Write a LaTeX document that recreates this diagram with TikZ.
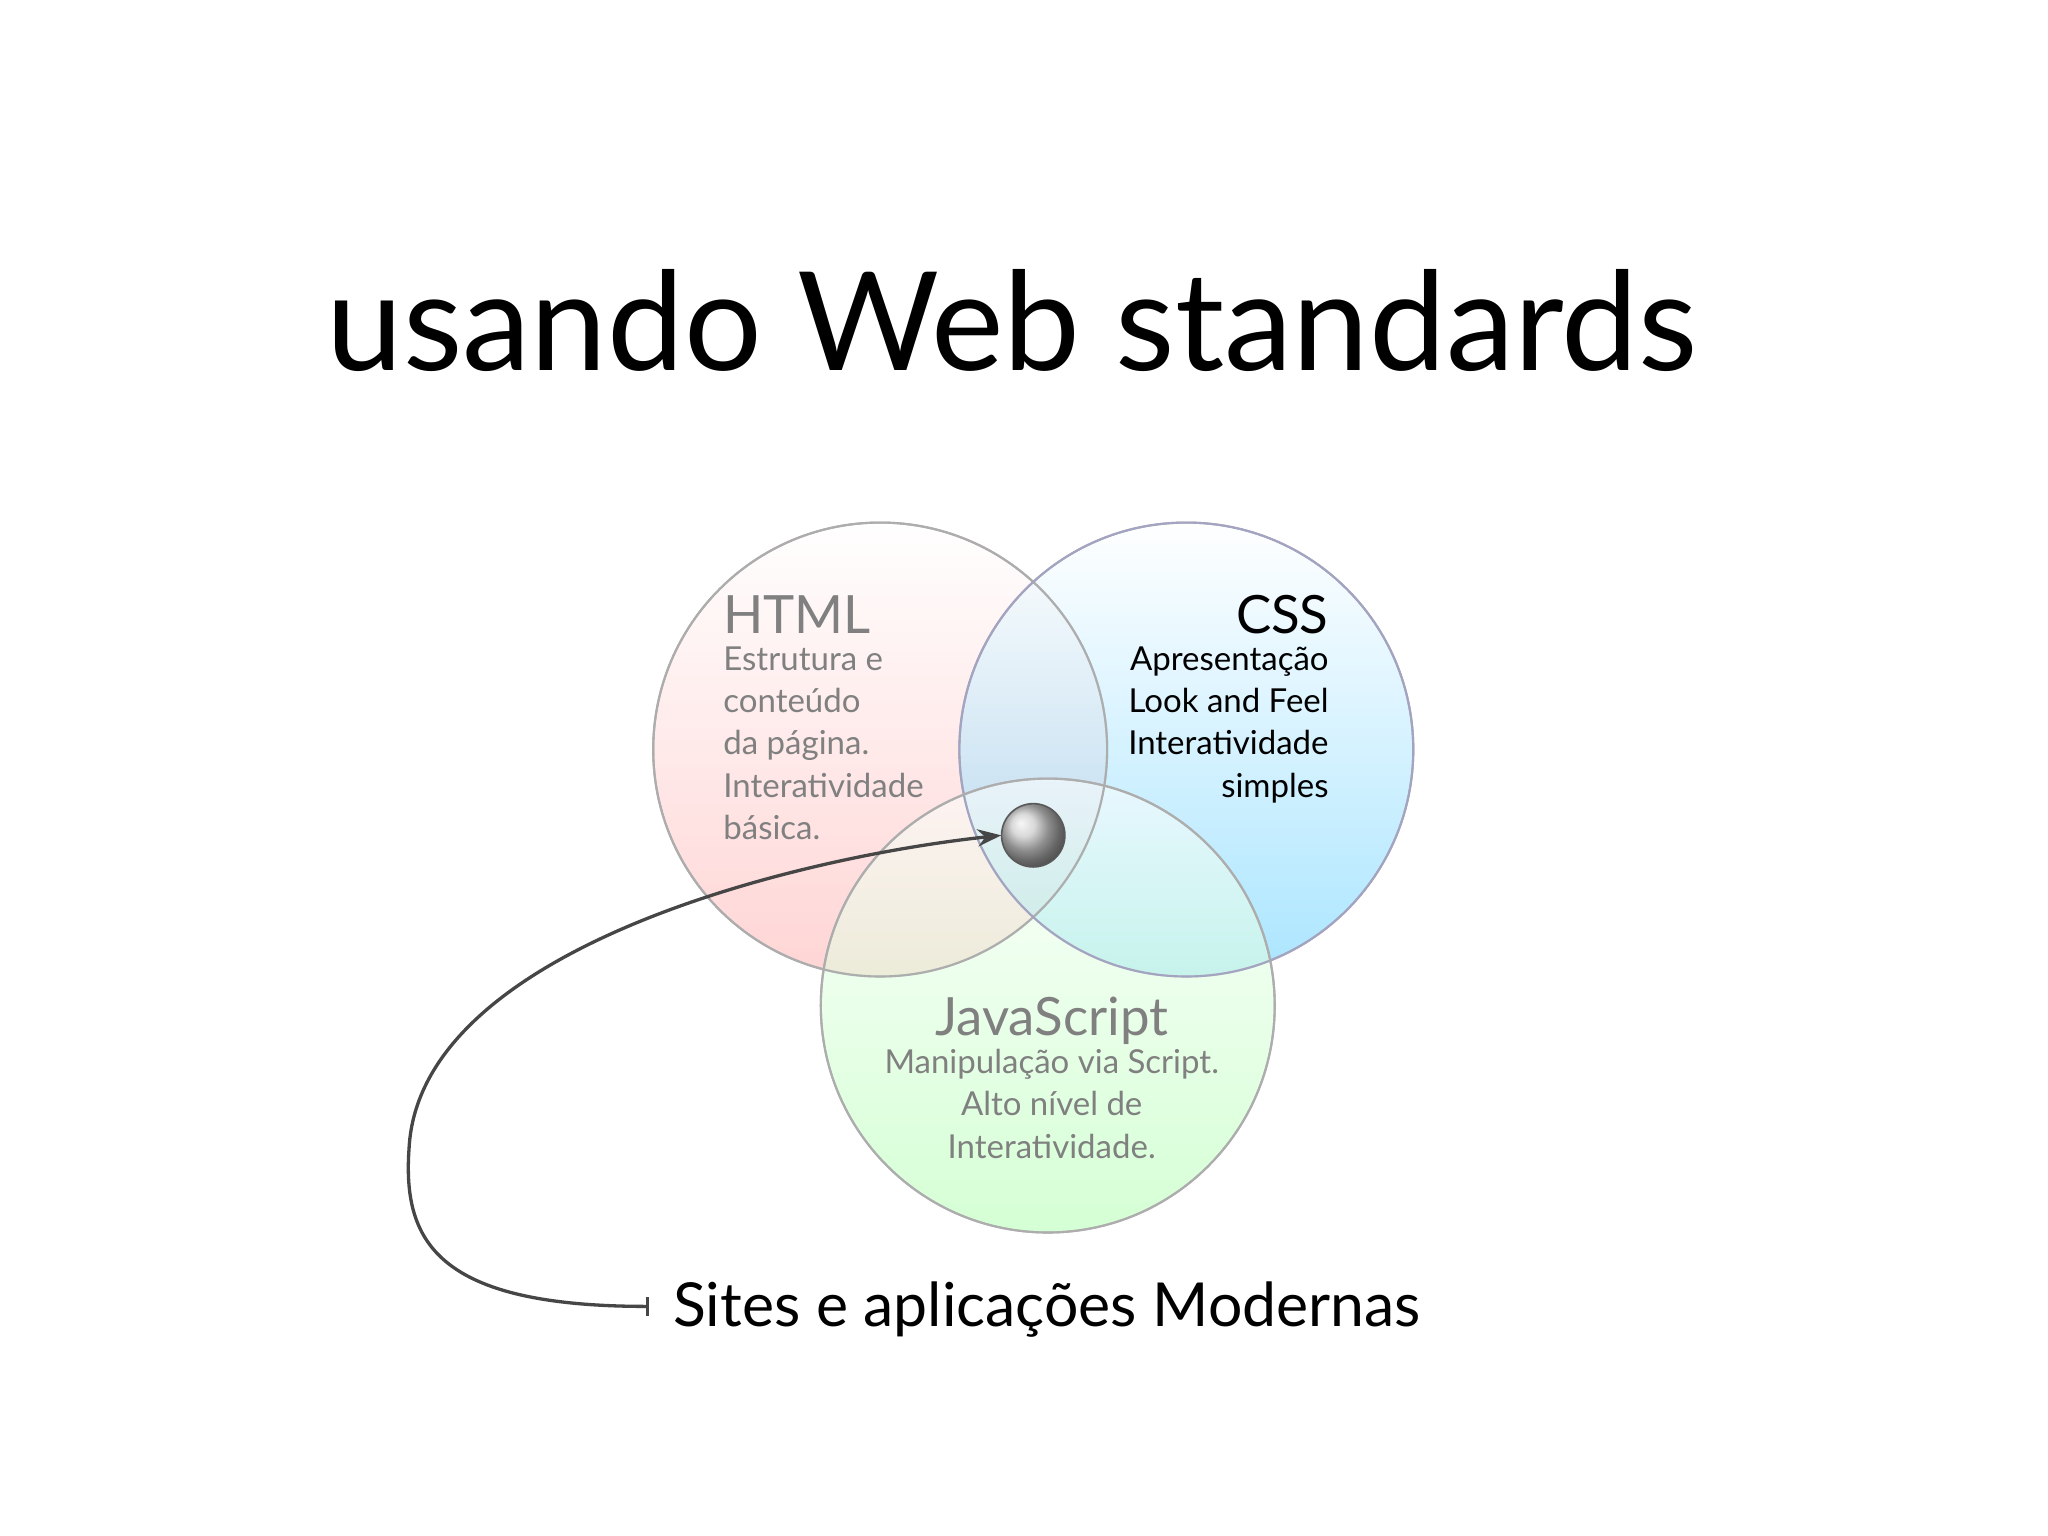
\documentclass[tikz,border=0pt]{standalone}
\usepackage{fontspec}
\setmainfont{Lato}
\usetikzlibrary{arrows.meta}
\definecolor{txtgray}{gray}{0.5}
\definecolor{ringgray}{gray}{0.68}
\begin{document}
\begin{tikzpicture}[x=1pt,y=-1pt,
  venn/.style={draw=ringgray,line width=1.6pt,fill opacity=0.55},
  head/.style={font=\fontsize{40}{44}\selectfont,inner sep=0},
  body/.style={font=\fontsize{25}{32}\selectfont,inner sep=0,align=left}]
\useasboundingbox (0,0) rectangle (1552,1164);
\fill[white] (0,0) rectangle (1552,1164);
\node[font=\fontsize{104}{110}\selectfont,inner sep=0] (title) at (767,243) {usando Web standards};
\shade[venn,top color=white,bottom color=red!30] (667,568) circle (172);
\shade[venn,top color=white,bottom color=blue!30!cyan!60] (899,568) circle (172);
\shade[venn,top color=white,bottom color=green!30,draw=ringgray!90] (794,762) circle (172);
\draw[ringgray,line width=1.6pt] (667,568) circle (172);
\draw[gray!80!blue!60,line width=1.6pt] (899,568) circle (172);
\draw[ringgray,line width=1.6pt] (794,762) circle (172);
\node[head,anchor=base west,text=txtgray] (html) at (548,480) {HTML};
\node[body,anchor=north west,text=txtgray] (htmlb) at (548,490) {Estrutura e\\conteúdo\\da página.\\Interatividade\\básica.};
\node[head,anchor=base east] (css) at (1007,480) {CSS};
\node[body,anchor=north east,align=right] (cssb) at (1007,490) {Apresentação\\Look and Feel\\Interatividade\\simples};
\node[head,anchor=base,text=txtgray] (js) at (797,785) {JavaScript};
\node[body,anchor=north,align=center,text=txtgray] (jsb) at (797,795) {Manipulação via Script.\\Alto nível de\\Interatividade.};
\shade[ball color=gray!40,draw=gray!70!black,line width=1.2pt] (783,633) circle (24);
\node[circle,minimum size=48pt,inner sep=0] (ball) at (783,633) {};
\node[font=\fontsize{46}{50}\selectfont,inner sep=0,anchor=base west] (sites) at (510,1005) {Sites e aplicações Modernas};
\coordinate (tail) at (492,990);
\draw[gray!55!black,line width=2.5pt,{Bar[width=14pt]}-{Stealth[length=18pt,width=13pt]}]
  (tail) .. controls (330,990) and (305,940) .. (310,870)
  .. controls (318,720) and (600,650) .. (ball.west);
\end{tikzpicture}
\end{document}
